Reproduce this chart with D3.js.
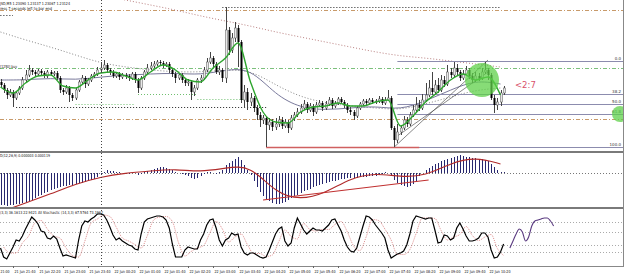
<!DOCTYPE html>
<html lang="en">
<head>
<meta charset="utf-8">
<title>EURUSD M5</title>
<script src="https://cdn.jsdelivr.net/npm/d3@7/dist/d3.min.js"></script>
<style>
  body { margin: 0; background: #fff; }
  text { font-family: "DejaVu Sans", sans-serif; }
</style>
</head>
<body>
<script>
// ---- data (prices are pips above 1.2200, one candle every 5 minutes from 21 Jun 21:20) ----
var firstOpen = 118;
var closePips = [115,110,105,108,102,107,112,120, 125,130,128,126,129,127,124,128,
  126,127,122,110,108,112,105,102, 110,118,122,116,120,124,126,130,
  132,135,130,128,124,126,123,125, 124,122,126,120,112,122,128,132,
  134,136,138,137,135,136,130,126, 122,125,120,117,118,108,112,120,
  122,130,138,142,136,128,130,122, 170,150,162,172,158,100,108,98,
  102,92,85,80,82,75,78,73, 76,80,74,78,72,82,85,88,
  92,96,90,94,88,95,97,92, 96,100,94,97,101,98,95,90,
  88,84,92,96,99,97,100,98, 99,101,97,100,102,72,60,68,
  72,80,76,85,90,95,92,100, 105,112,108,115,110,120,116,128,
  125,132,128,122,126,130,124,120, 124,122,128,130,125,102,95,98,
  107,112];
var highPips = [121,117,112,111,110,109,114,123, 130,135,132,130,131,131,129,130,
  130,129,129,124,112,115,114,107, 112,120,125,124,122,126,128,133,
  138,140,137,132,130,128,128,127, 127,126,128,128,122,124,130,136,
  138,139,140,140,139,138,138,132, 128,127,127,122,121,120,115,122,
  125,133,142,148,144,138,134,132, 193,173,167,178,175,160,115,112,
  107,104,95,88,85,84,82,81, 82,84,83,81,80,85,88,92,
  96,100,98,97,96,98,100,99, 99,103,102,99,103,103,100,97,
  93,90,94,98,101,101,102,102, 101,104,103,103,110,104,74,76,
  75,84,83,88,95,103,100,106, 117,120,128,120,122,125,124,135,
  132,138,136,130,130,134,132,127, 128,127,132,138,132,127,105,102,
  110,114];
var lowPips = [112,107,101,103,93,100,105,110, 118,123,125,123,124,125,122,122,
  124,124,120,107,105,106,98,99, 100,108,116,112,114,118,122,124,
  128,130,128,125,122,122,120,121, 121,119,120,117,107,110,120,126,
  130,132,134,134,132,133,127,123, 117,120,117,114,114,100,104,110,
  117,120,128,136,133,126,125,118, 117,145,147,158,133,97,92,90,
  94,88,80,73,76,53,70,69, 70,73,71,72,67,70,79,83,
  86,90,87,88,84,86,93,89, 90,94,91,92,95,96,92,87,
  85,80,82,90,94,95,95,96, 96,97,95,95,99,70,53,57,
  65,70,73,74,83,88,89,90, 98,103,105,105,107,108,113,114,
  122,123,125,119,120,124,121,117, 118,119,120,126,120,100,87,90,
  94,105];

// moving averages, read every 4th (fast) / 8th (slower) candle
var fastMA = [113,107,117,124,125,114,112,120,127,128,124,120,128,135,130,120,118,132,142,157,
  118,88,78,77,88,93,94,97,94,94,98,100,74,84,98,108,120,126,120,123,105];
var midMA = [120,120,122,120,123,125,126,127,125,130,132,105,92,90,92,94,90,99,110,120,116];
var slowMA = [168,160,153,145,137,133,130,128,128,130,130,115,103,97,94,92,90,96,103,110,112];
var longMA = [225,220,215,210,205,200,195,190,184,179,174,168,163,158,153,148,144,142,139,136,133];

// fibonacci retracement
var fibHigh = 139, fibLow = 53, fibStart = 127;
var fibLevels = [0, 38.2, 50, 61.8, 100];

// horizontal levels: price, first and last candle index
var orangeLevels = [190, 81];
var greenLevel = 132;
var dotLevels = [[193, 71, 160], [185, -1, 4], [93, 5, 85]];
var greenDotLevels = [[96, 24, 43], [106, 44, 63], [101, 63, 78]];
var supportLine = [53, 85, 134];
var trendLines = [[[126, 53], [156, 140]], [[127, 64], [156, 128]]];

// MACD (units of 0.00001)
var macdHist = [-32,-32,-33,-32,-32,-31,-31,-30, -29,-28,-27,-25,-23,-22,-20,-19,
  -17,-16,-15,-14,-13,-13,-12,-12, -11,-10,-10,-9,-8,-7,-6,-4,
  -2,1,3,2,2,1,1,0, 0,-1,0,0,-2,-1,1,2, 3,4,5,6,6,5,4,3,
  1,0,-1,-2,-3,-5,-6,-5, -3,-1,1,1,0,-1,1,3, 8,10,12,14,16,13,8,3,
  -2,-8,-14,-19,-23,-26,-28,-30, -31,-31,-30,-29,-27,-25,-23,-22,
  -20,-18,-17,-16,-14,-13,-12,-11, -10,-9,-8,-8,-7,-6,-6,-5,
  -5,-5,-5,-4,-4,-4,-3,-3, -3,-2,-1,1,0,-3,-7,-10,
  -12,-13,-14,-13,-11,-8,-3,0, 3,5,7,9,10,12,13,14,
  15,16,17,18,17,16,16,15, 15,14,14,13,12,9,6,3, 1,1];
var macdSignal = [-39,-30,-21,-11,-4,0,2,4,1,5,8,-20,-27,-20,-5,0,-4,-3,10,16,9];
var macdTrend = [[84, -27], [137, -7]];

// Stochastic
var stochMain = [28,10,6,18,30,44,42,52, 66,78,90,84,76,62,60,48,
  46,52,46,28,12,14,12,10, 8,44,72,82,80,86,90,96,
  96,94,84,70,54,44,48,42, 38,34,32,26,24,56,80,86,
  88,90,92,92,90,84,68,36, 10,10,10,24,30,28,26,26,
  44,56,74,84,86,68,44,32, 44,48,58,54,56,30,18,14,
  18,18,14,10,8,10,24,40, 56,66,70,42,32,38,68,88,
  76,64,56,62,68,64,64,62, 68,74,84,86,74,62,44,30,
  22,20,28,50,72,92,90,84, 74,66,58,48,24,8,12,16,
  18,22,34,56,82,92,90,88, 86,88,88,64,38,40,54,52,
  44,48,68,78,66,52,42,42, 44,48,58,58,50,24,8,10, 20,36];
var stochSignal = [30,18,18,38,52,78,83,66,52,48,28,13,10,42,78,86,94,91,70,48,
  42,35,28,53,84,90,91,81,38,12,21,28,33,58,81,66,40,50,56,35,
  17,17,11,14,40,64,51,46,77,65,62,65,65,75,81,60,32,23,50,85,
  83,66,44,15,15,25,57,88,88,87,63,44,50,55,71,53,43,50,55,27,13];
var stochExtra = [28,42,56,66,60,42,50,72,82,84,86,88,88,82,72];
var stochExtraStart = 163;
var stochLevels = [80, 60, 35, 20];

// time axis
var firstLabel = "21:00";
var tickLabels = ["21 Jun 21:40","21 Jun 22:20","21 Jun 23:00","21 Jun 23:40",
  "22 Jun 00:20","22 Jun 01:00","22 Jun 01:40","22 Jun 02:20","22 Jun 03:00","22 Jun 03:40",
  "22 Jun 04:20","22 Jun 05:00","22 Jun 05:40","22 Jun 06:20","22 Jun 07:00","22 Jun 07:40",
  "22 Jun 08:20","22 Jun 09:00","22 Jun 09:40","22 Jun 10:20"];
var firstTickIndex = 4, tickStep = 8;
var daySeparator = 32;

// ---- layout ----
var W = 625, H = 274, right = 623;
var svg = d3.select("body").append("svg").attr("width", W).attr("height", H);

var x = d3.scaleLinear().domain([0, 160]).range([0.5, 500.5]);
var y = d3.scaleLinear().domain([49, 200]).range([151, 0]);
var yM = d3.scaleLinear().domain([-34, 21]).range([207, 152]);
var yS = d3.scaleLinear().domain([0, 100]).range([262, 212]);

var defs = svg.append("defs");
function clip(id, y0, h) {
  defs.append("clipPath").attr("id", id).append("rect")
    .attr("x", 0).attr("y", y0).attr("width", right).attr("height", h);
  return svg.append("g").attr("clip-path", "url(#" + id + ")");
}
var gMain = clip("cMain", 0, 151);
var gMacd = clip("cMacd", 153, 54);
var gSto = clip("cSto", 209, 57);

function hline(g, yy, x0, x1, color, dash, w) {
  g.append("line").attr("x1", x0).attr("x2", x1).attr("y1", yy).attr("y2", yy)
    .attr("stroke", color).attr("stroke-width", w || 1)
    .attr("stroke-dasharray", dash || null);
}

// ---- main panel ----
orangeLevels.forEach(function (p) {
  hline(gMain, Math.round(y(p)) + 0.5, 0, right, "#c89a6a", "4,2,1,2");
});
hline(gMain, Math.round(y(greenLevel)) + 0.5, 0, right, "#7cc07c", "4,2,1,2");
dotLevels.forEach(function (d) {
  hline(gMain, Math.round(y(d[0])) + 0.5, x(d[1]), x(d[2]), "#222", "1,2");
});
greenDotLevels.forEach(function (d) {
  hline(gMain, Math.round(y(d[0])) + 0.5, x(d[1]), x(d[2]), "#6fbf6f", "1,2");
});

// period separator
svg.append("line").attr("x1", Math.round(x(daySeparator)) + 0.5).attr("x2", Math.round(x(daySeparator)) + 0.5)
  .attr("y1", 0).attr("y2", 266).attr("stroke", "#444").attr("stroke-dasharray", "1,2");

// moving averages
function maLine(vals, step, color, width, dash, curve) {
  var line = d3.line().x(function (d, i) { return x(i * step); })
    .y(function (d) { return y(d); }).curve(curve);
  gMain.append("path").datum(vals).attr("d", line).attr("fill", "none")
    .attr("stroke", color).attr("stroke-width", width).attr("stroke-dasharray", dash || null);
}
maLine(longMA, 8, "#b07070", 0.9, "1,2", d3.curveBasis);
maLine(slowMA, 8, "#777", 0.9, "1,2", d3.curveBasis);
maLine(midMA, 8, "#6a6a90", 0.9, null, d3.curveBasis);

// fibonacci
fibLevels.forEach(function (lv) {
  var p = fibHigh - (fibHigh - fibLow) * lv / 100;
  var yy = Math.round(y(p)) + 0.5;
  hline(gMain, yy, x(fibStart), right, "#8c8cae", null, 1);
  gMain.append("text").attr("x", 621).attr("y", yy - 1.5).attr("text-anchor", "end")
    .attr("font-size", 4).attr("fill", "#333").text(lv.toFixed(1));
});
hline(gMain, Math.round(y(supportLine[0])) + 0.5, x(supportLine[1]), x(supportLine[2]), "#d06060", null, 1.4);

trendLines.forEach(function (t) {
  gMain.append("line").attr("x1", x(t[0][0])).attr("y1", y(t[0][1]))
    .attr("x2", x(t[1][0])).attr("y2", y(t[1][1]))
    .attr("stroke", "#555").attr("stroke-width", 0.7);
});

// candles
var candles = closePips.map(function (c, i) {
  return { i: i, o: i ? closePips[i - 1] : firstOpen, c: c, h: highPips[i], l: lowPips[i] };
});
var cg = gMain.append("g");
cg.selectAll("line.wick").data(candles).enter().append("line")
  .attr("x1", function (d) { return Math.round(x(d.i)) + 0.5; })
  .attr("x2", function (d) { return Math.round(x(d.i)) + 0.5; })
  .attr("y1", function (d) { return y(d.h); })
  .attr("y2", function (d) { return y(d.l); })
  .attr("stroke", "#444").attr("stroke-width", 1);
cg.selectAll("rect.body").data(candles).enter().append("rect")
  .attr("x", function (d) { return Math.round(x(d.i)) - 0.5; })
  .attr("width", 2)
  .attr("y", function (d) { return y(Math.max(d.o, d.c)); })
  .attr("height", function (d) { return Math.max(1, Math.abs(y(d.o) - y(d.c))); })
  .attr("fill", function (d) { return d.c >= d.o ? "#e8e8e8" : "#000"; })
  .attr("stroke", function (d) { return d.c >= d.o ? "#555" : "none"; })
  .attr("stroke-width", 0.5);

maLine(fastMA, 4, "#2ea52e", 1.4, null, d3.curveMonotoneX);

// highlight circles
gMain.append("circle").attr("cx", 482).attr("cy", 80).attr("r", 17)
  .attr("fill", "#5fd04a").attr("opacity", 0.75);
gMain.append("circle").attr("cx", 620).attr("cy", Math.round(y(fibHigh - (fibHigh - fibLow) * 0.618))).attr("r", 8)
  .attr("fill", "#5fd04a").attr("opacity", 0.75);
gMain.append("text").attr("x", 515).attr("y", 88).attr("font-size", 8.5)
  .attr("fill", "#d8506a").text("<2:7");

// header texts
function tiny(g, tx, ty, str, len, size) {
  g.append("text").attr("x", tx).attr("y", ty).attr("font-size", size || 4)
    .attr("textLength", len).attr("lengthAdjust", "spacingAndGlyphs")
    .attr("fill", "#111").text(str);
}
tiny(gMain, 0, 4.5, "JSD,M5 1.23090 1.23137 1.23067 1.23124", 70);
tiny(gMain, 0, 10, "ress 7 seconds left to bar end", 52);
tiny(gMain, 0, 68, "[1250] buy", 17);

// ---- MACD ----
hline(gMacd, Math.round(yM(0)) + 0.5, 0, right, "#777", "1,2");
gMacd.selectAll("line.h").data(macdHist).enter().append("line")
  .attr("x1", function (d, i) { return Math.round(x(i)) + 0.5; })
  .attr("x2", function (d, i) { return Math.round(x(i)) + 0.5; })
  .attr("y1", yM(0)).attr("y2", function (d) { return yM(d); })
  .attr("stroke", "#27276e").attr("stroke-width", 1);
gMacd.append("path").datum(macdSignal)
  .attr("d", d3.line().x(function (d, i) { return x(i * 8); }).y(function (d) { return yM(d); }).curve(d3.curveBasis))
  .attr("fill", "none").attr("stroke", "#b02a2a").attr("stroke-width", 1.1);
gMacd.append("line").attr("x1", x(macdTrend[0][0])).attr("y1", yM(macdTrend[0][1]))
  .attr("x2", x(macdTrend[1][0])).attr("y2", yM(macdTrend[1][1]))
  .attr("stroke", "#c03030").attr("stroke-width", 1.1);
tiny(gMacd, 0, 157, "D(12,26,9) 0.000003 0.000119", 50);

// ---- Stochastic ----
stochLevels.forEach(function (lv) {
  hline(gSto, Math.round(yS(lv)) + 0.5, 0, right, "#aaa", "1,2");
});
gSto.append("path").datum(stochSignal)
  .attr("d", d3.line().x(function (d, i) { return x(i * 2 + 1); }).y(function (d) { return yS(d); }).curve(d3.curveMonotoneX))
  .attr("fill", "none").attr("stroke", "#d06060").attr("stroke-width", 0.7).attr("stroke-dasharray", "1,1");
gSto.append("path").datum(stochMain)
  .attr("d", d3.line().x(function (d, i) { return x(i); }).y(function (d) { return yS(d); }))
  .attr("fill", "none").attr("stroke", "#000").attr("stroke-width", 1.2);
gSto.append("path").datum(stochExtra)
  .attr("d", d3.line().x(function (d, i) { return x(stochExtraStart + i); }).y(function (d) { return yS(d); }).curve(d3.curveMonotoneX))
  .attr("fill", "none").attr("stroke", "#5a3a80").attr("stroke-width", 1.1);
tiny(gSto, 0, 214, "(3,3) 36.1613 22.9421   All Stochastic (14,3,3) 67.5764 73.1962", 103);

// ---- frame, separators, time axis ----
[152, 208].forEach(function (yy) {
  hline(svg, yy, 0, right + 1, "#7a7a7a", null, 2);
});
hline(svg, 266.5, 0, right + 1, "#888", null, 1);
svg.append("line").attr("x1", right + 0.5).attr("x2", right + 0.5).attr("y1", 0).attr("y2", 267)
  .attr("stroke", "#888");

tiny(svg, 0.5, 272.5, firstLabel, 9, 4);
tickLabels.forEach(function (t, k) {
  var tx = Math.round(x(firstTickIndex + k * tickStep)) + 0.5;
  svg.append("line").attr("x1", tx).attr("x2", tx).attr("y1", 266).attr("y2", 268).attr("stroke", "#666");
  tiny(svg, tx + 1, 272.5, t, 21, 4);
});
</script>
</body>
</html>
